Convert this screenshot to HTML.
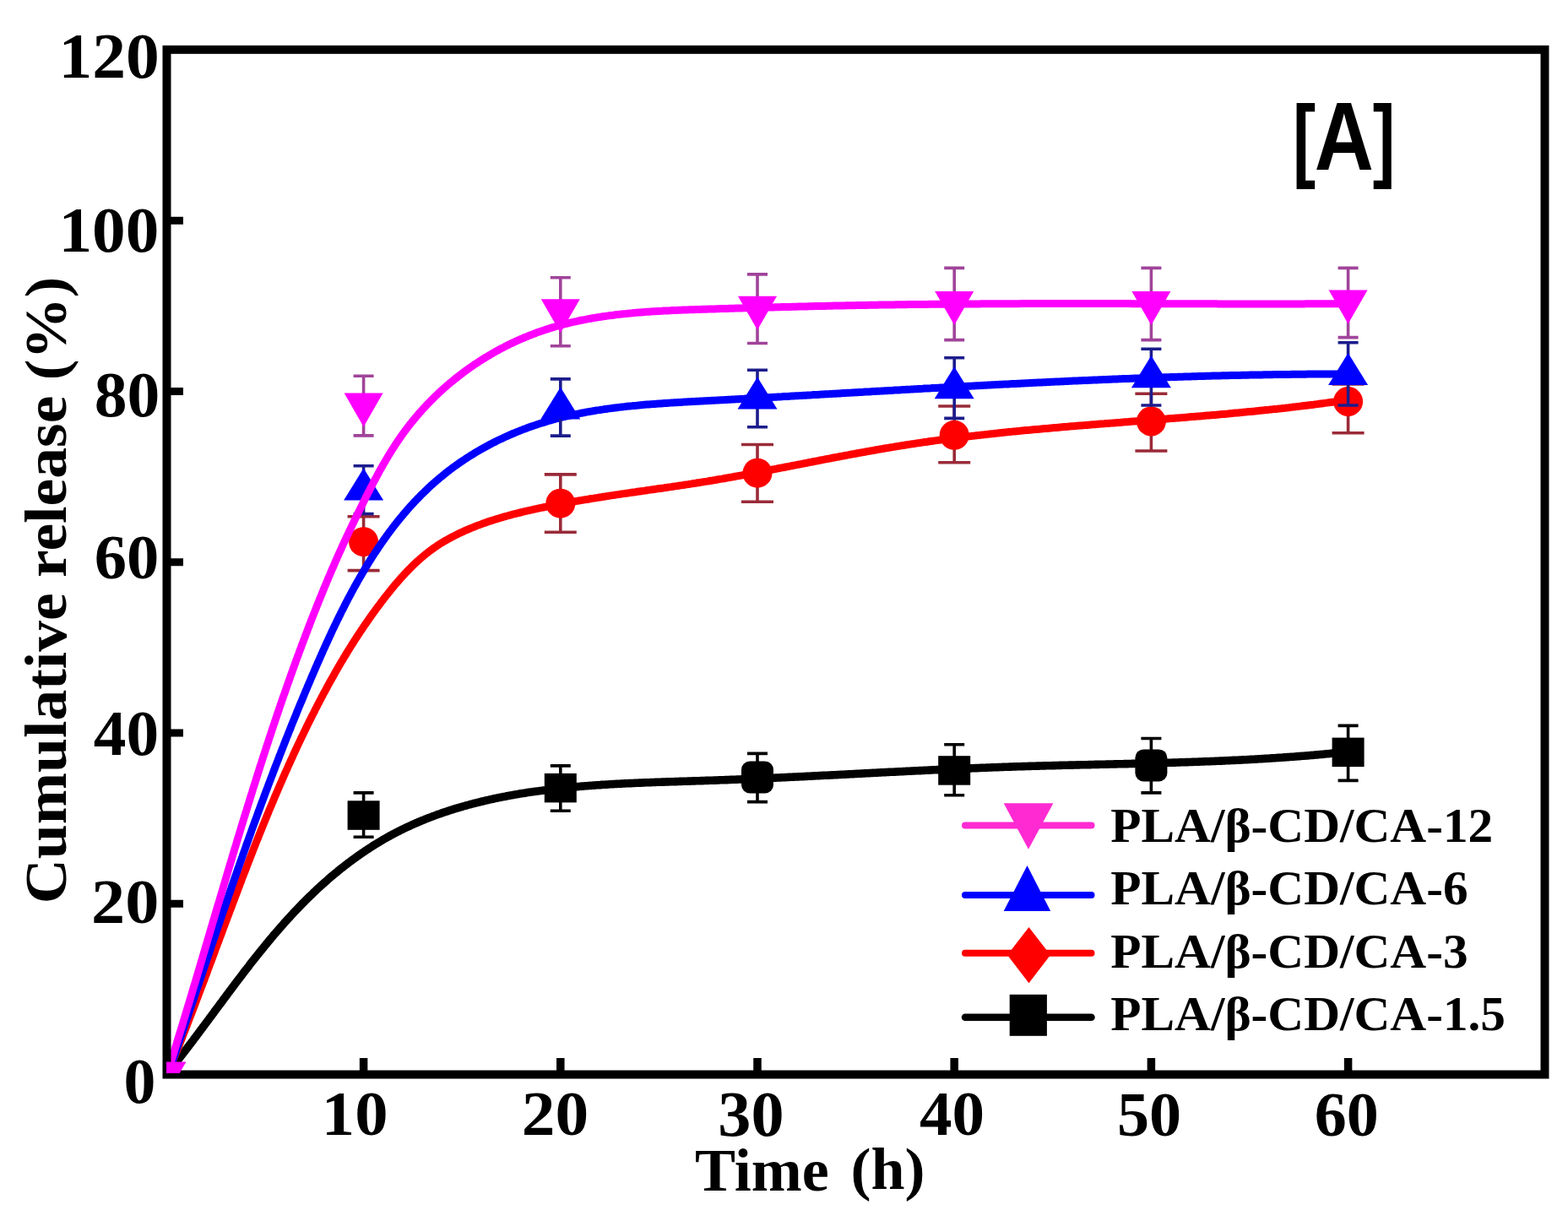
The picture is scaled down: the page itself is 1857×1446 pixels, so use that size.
<!DOCTYPE html>
<html><head><meta charset="utf-8"><title>Cumulative release</title>
<style>
html,body{margin:0;padding:0;background:#fff;}
svg{display:block;}
.t{font-family:"Liberation Serif","Times New Roman",serif;font-weight:bold;fill:#000;}
.s{font-family:"Liberation Sans",Arial,sans-serif;font-weight:bold;fill:#000;}
</style></head><body>
<svg width="1857" height="1446" viewBox="0 0 1857 1446">
<rect width="1857" height="1446" fill="#fff"/>
<defs><clipPath id="pa"><rect x="202" y="64" width="1622" height="1203"/></clipPath><clipPath id="pb"><rect x="197" y="59" width="1632" height="1212"/></clipPath></defs>
<g clip-path="url(#pa)">
<path d="M197.4,1271.9 L198.6,1270.5 L199.8,1269.0 L200.9,1267.6 L202.1,1266.1 L203.3,1264.7 L204.5,1263.2 L205.6,1261.7 L206.8,1260.3 L208.0,1258.8 L209.1,1257.3 L210.3,1255.8 L211.5,1254.4 L212.6,1252.9 L213.8,1251.4 L214.9,1249.9 L216.1,1248.4 L217.2,1246.9 L218.4,1245.4 L219.6,1243.9 L220.7,1242.4 L221.9,1240.9 L223.0,1239.4 L224.2,1237.9 L225.3,1236.4 L226.5,1234.9 L227.6,1233.4 L228.8,1231.9 L229.9,1230.3 L231.1,1228.8 L232.2,1227.3 L233.3,1225.8 L234.5,1224.3 L235.6,1222.7 L236.8,1221.2 L237.9,1219.7 L239.1,1218.1 L240.2,1216.6 L241.4,1215.1 L242.5,1213.5 L243.6,1212.0 L244.8,1210.5 L245.9,1208.9 L247.1,1207.4 L248.2,1205.8 L249.4,1204.3 L250.5,1202.8 L251.6,1201.2 L252.8,1199.7 L253.9,1198.1 L255.1,1196.6 L256.2,1195.0 L257.4,1193.5 L258.5,1192.0 L259.7,1190.4 L260.8,1188.9 L262.0,1187.3 L263.1,1185.8 L264.3,1184.2 L265.4,1182.7 L266.6,1181.1 L267.7,1179.6 L268.9,1178.0 L270.0,1176.5 L271.2,1174.9 L272.3,1173.4 L273.5,1171.8 L274.6,1170.3 L275.8,1168.8 L277.0,1167.2 L278.1,1165.7 L279.3,1164.1 L280.5,1162.6 L281.6,1161.0 L282.8,1159.5 L284.0,1158.0 L285.1,1156.4 L286.3,1154.9 L287.5,1153.3 L288.6,1151.8 L289.8,1150.3 L291.0,1148.7 L292.2,1147.2 L293.4,1145.7 L294.6,1144.2 L295.7,1142.6 L296.9,1141.1 L298.1,1139.6 L299.3,1138.1 L300.5,1136.5 L301.7,1135.0 L302.9,1133.5 L304.1,1132.0 L305.3,1130.5 L306.5,1129.0 L307.7,1127.5 L308.9,1126.0 L310.2,1124.5 L311.4,1123.0 L312.6,1121.5 L313.8,1120.0 L315.0,1118.5 L316.3,1117.0 L317.5,1115.5 L318.7,1114.0 L320.0,1112.5 L321.2,1111.0 L322.5,1109.6 L323.7,1108.1 L324.9,1106.6 L326.2,1105.2 L327.5,1103.7 L328.7,1102.2 L330.0,1100.8 L331.2,1099.3 L332.5,1097.9 L333.8,1096.4 L335.1,1095.0 L336.3,1093.5 L337.6,1092.1 L338.9,1090.7 L340.2,1089.2 L341.5,1087.8 L342.8,1086.4 L344.1,1085.0 L345.4,1083.6 L346.7,1082.2 L348.0,1080.7 L349.3,1079.3 L350.6,1077.9 L352.0,1076.6 L353.3,1075.2 L354.6,1073.8 L356.0,1072.4 L357.3,1071.0 L358.6,1069.7 L360.0,1068.3 L361.3,1066.9 L362.7,1065.6 L364.1,1064.2 L365.4,1062.9 L366.8,1061.5 L368.2,1060.2 L369.6,1058.9 L370.9,1057.6 L372.3,1056.2 L373.7,1054.9 L375.1,1053.6 L376.5,1052.3 L377.9,1051.0 L379.3,1049.7 L380.8,1048.4 L382.2,1047.1 L383.6,1045.9 L385.0,1044.6 L386.5,1043.3 L387.9,1042.1 L389.3,1040.8 L390.8,1039.6 L392.2,1038.3 L393.7,1037.1 L395.1,1035.9 L396.6,1034.6 L398.1,1033.4 L399.6,1032.2 L401.0,1031.0 L402.5,1029.8 L404.0,1028.6 L405.5,1027.4 L407.0,1026.3 L408.5,1025.1 L410.0,1023.9 L411.5,1022.8 L413.0,1021.6 L414.5,1020.5 L416.1,1019.3 L417.6,1018.2 L419.1,1017.1 L420.6,1016.0 L422.2,1014.9 L423.7,1013.8 L425.3,1012.7 L426.8,1011.6 L428.4,1010.5 L430.0,1009.4 L431.5,1008.4 L433.1,1007.3 L434.7,1006.3 L436.3,1005.2 L437.8,1004.2 L439.4,1003.2 L441.0,1002.1 L442.6,1001.1 L444.2,1000.1 L445.9,999.1 L447.5,998.1 L449.1,997.2 L450.7,996.2 L452.3,995.2 L454.0,994.3 L455.6,993.3 L457.3,992.4 L458.9,991.5 L460.6,990.6 L462.2,989.6 L463.9,988.7 L465.5,987.8 L467.2,987.0 L468.9,986.1 L470.6,985.2 L472.2,984.4 L473.9,983.5 L475.6,982.7 L477.3,981.8 L479.0,981.0 L480.7,980.2 L482.5,979.4 L484.2,978.6 L485.9,977.8 L487.6,977.0 L489.3,976.2 L491.1,975.5 L492.8,974.7 L494.5,974.0 L496.3,973.2 L498.0,972.5 L499.8,971.8 L501.5,971.1 L503.3,970.3 L505.1,969.6 L506.8,968.9 L508.6,968.3 L510.4,967.6 L512.1,966.9 L513.9,966.3 L515.7,965.6 L517.5,964.9 L519.3,964.3 L521.1,963.7 L522.9,963.0 L524.7,962.4 L526.5,961.8 L528.3,961.2 L530.1,960.6 L531.9,960.0 L533.7,959.4 L535.5,958.9 L537.3,958.3 L539.2,957.7 L541.0,957.2 L542.8,956.6 L544.6,956.1 L546.5,955.6 L548.3,955.0 L550.1,954.5 L552.0,954.0 L553.8,953.5 L555.6,953.0 L557.5,952.5 L559.3,952.0 L561.2,951.5 L563.0,951.0 L564.9,950.6 L566.7,950.1 L568.6,949.7 L570.4,949.2 L572.3,948.8 L574.2,948.3 L576.0,947.9 L577.9,947.5 L579.7,947.0 L581.6,946.6 L583.5,946.2 L585.3,945.8 L587.2,945.4 L589.1,945.0 L591.0,944.6 L592.8,944.3 L594.7,943.9 L596.6,943.5 L598.4,943.2 L600.3,942.8 L602.2,942.4 L604.1,942.1 L606.0,941.8 L607.8,941.4 L609.7,941.1 L611.6,940.8 L613.5,940.4 L615.4,940.1 L617.3,939.8 L619.2,939.5 L621.0,939.2 L622.9,938.9 L624.8,938.6 L626.7,938.3 L628.6,938.0 L630.5,937.8 L632.4,937.5 L634.3,937.2 L636.2,936.9 L638.1,936.7 L640.0,936.4 L641.9,936.2 L643.8,935.9 L645.7,935.7 L647.6,935.4 L649.5,935.2 L651.4,935.0 L653.3,934.7 L655.2,934.5 L657.1,934.3 L659.0,934.1 L660.9,933.9 L662.8,933.7 L664.7,933.5 L666.6,933.3 L668.5,933.1 L670.5,932.9 L672.4,932.7 L674.3,932.5 L676.2,932.3 L678.1,932.1 L680.0,932.0 L681.9,931.8 L683.9,931.6 L685.8,931.5 L687.7,931.3 L689.6,931.1 L691.5,931.0 L693.4,930.8 L695.4,930.7 L697.3,930.5 L699.2,930.4 L701.1,930.2 L703.0,930.1 L705.0,930.0 L706.9,929.8 L708.8,929.7 L710.7,929.6 L712.7,929.4 L714.6,929.3 L716.5,929.2 L718.4,929.1 L720.4,929.0 L722.3,928.8 L724.2,928.7 L726.1,928.6 L728.1,928.5 L730.0,928.4 L731.9,928.3 L733.8,928.2 L735.8,928.1 L737.7,928.0 L739.6,927.9 L741.6,927.8 L743.5,927.7 L745.4,927.6 L747.3,927.6 L749.3,927.5 L751.2,927.4 L753.1,927.3 L755.1,927.2 L757.0,927.1 L758.9,927.1 L760.9,927.0 L762.8,926.9 L764.7,926.8 L766.6,926.7 L768.6,926.7 L770.5,926.6 L772.4,926.5 L774.4,926.5 L776.3,926.4 L778.2,926.3 L780.2,926.3 L782.1,926.2 L784.0,926.1 L786.0,926.1 L787.9,926.0 L789.8,925.9 L791.8,925.9 L793.7,925.8 L795.6,925.7 L797.6,925.7 L799.5,925.6 L801.4,925.6 L803.3,925.5 L805.3,925.4 L807.2,925.4 L809.1,925.3 L811.1,925.2 L813.0,925.2 L814.9,925.1 L816.9,925.1 L818.8,925.0 L820.7,924.9 L822.6,924.9 L824.6,924.8 L826.5,924.8 L828.4,924.7 L830.4,924.6 L832.3,924.6 L834.2,924.5 L836.1,924.4 L838.1,924.4 L840.0,924.3 L841.9,924.3 L843.9,924.2 L845.8,924.1 L847.7,924.1 L849.6,924.0 L851.6,923.9 L853.5,923.8 L855.4,923.8 L857.3,923.7 L859.3,923.6 L861.2,923.6 L863.1,923.5 L865.0,923.4 L866.9,923.3 L868.9,923.3 L870.8,923.2 L872.7,923.1 L874.6,923.0 L876.5,923.0 L878.5,922.9 L880.4,922.8 L882.3,922.7 L884.2,922.6 L886.1,922.6 L888.1,922.5 L890.0,922.4 L891.9,922.3 L893.8,922.2 L895.7,922.2 L897.7,922.1 L899.6,922.0 L901.5,921.9 L903.4,921.8 L905.3,921.7 L907.2,921.6 L909.2,921.6 L911.1,921.5 L913.0,921.4 L914.9,921.3 L916.8,921.2 L918.7,921.1 L920.6,921.0 L922.6,921.0 L924.5,920.9 L926.4,920.8 L928.3,920.7 L930.2,920.6 L932.1,920.5 L934.0,920.4 L936.0,920.3 L937.9,920.2 L939.8,920.1 L941.7,920.0 L943.6,920.0 L945.5,919.9 L947.4,919.8 L949.3,919.7 L951.3,919.6 L953.2,919.5 L955.1,919.4 L957.0,919.3 L958.9,919.2 L960.8,919.1 L962.7,919.0 L964.6,918.9 L966.5,918.8 L968.4,918.7 L970.4,918.6 L972.3,918.5 L974.2,918.4 L976.1,918.3 L978.0,918.3 L979.9,918.2 L981.8,918.1 L983.7,918.0 L985.6,917.9 L987.5,917.8 L989.4,917.7 L991.4,917.6 L993.3,917.5 L995.2,917.4 L997.1,917.3 L999.0,917.2 L1000.9,917.1 L1002.8,917.0 L1004.7,916.9 L1006.6,916.8 L1008.5,916.7 L1010.4,916.6 L1012.3,916.5 L1014.2,916.4 L1016.1,916.3 L1018.1,916.2 L1020.0,916.1 L1021.9,916.0 L1023.8,915.9 L1025.7,915.8 L1027.6,915.7 L1029.5,915.6 L1031.4,915.5 L1033.3,915.4 L1035.2,915.3 L1037.1,915.2 L1039.0,915.1 L1040.9,915.0 L1042.8,914.9 L1044.7,914.8 L1046.7,914.7 L1048.6,914.6 L1050.5,914.5 L1052.4,914.4 L1054.3,914.3 L1056.2,914.3 L1058.1,914.2 L1060.0,914.1 L1061.9,914.0 L1063.8,913.9 L1065.7,913.8 L1067.6,913.7 L1069.5,913.6 L1071.4,913.5 L1073.3,913.4 L1075.2,913.3 L1077.1,913.2 L1079.1,913.1 L1081.0,913.0 L1082.9,912.9 L1084.8,912.8 L1086.7,912.7 L1088.6,912.6 L1090.5,912.6 L1092.4,912.5 L1094.3,912.4 L1096.2,912.3 L1098.1,912.2 L1100.0,912.1 L1101.9,912.0 L1103.8,911.9 L1105.7,911.8 L1107.6,911.7 L1109.6,911.6 L1111.5,911.6 L1113.4,911.5 L1115.3,911.4 L1117.2,911.3 L1119.1,911.2 L1121.0,911.1 L1122.9,911.0 L1124.8,910.9 L1126.7,910.9 L1128.6,910.8 L1130.5,910.7 L1132.4,910.6 L1134.3,910.5 L1136.3,910.4 L1138.2,910.4 L1140.1,910.3 L1142.0,910.2 L1143.9,910.1 L1145.8,910.0 L1147.7,909.9 L1149.6,909.9 L1151.5,909.8 L1153.4,909.7 L1155.3,909.6 L1157.2,909.6 L1159.2,909.5 L1161.1,909.4 L1163.0,909.3 L1164.9,909.3 L1166.8,909.2 L1168.7,909.1 L1170.6,909.0 L1172.5,909.0 L1174.4,908.9 L1176.3,908.8 L1178.3,908.7 L1180.2,908.7 L1182.1,908.6 L1184.0,908.5 L1185.9,908.5 L1187.8,908.4 L1189.7,908.3 L1191.6,908.3 L1193.6,908.2 L1195.5,908.1 L1197.4,908.1 L1199.3,908.0 L1201.2,907.9 L1203.1,907.9 L1205.0,907.8 L1206.9,907.8 L1208.9,907.7 L1210.8,907.6 L1212.7,907.6 L1214.6,907.5 L1216.5,907.5 L1218.4,907.4 L1220.4,907.4 L1222.3,907.3 L1224.2,907.2 L1226.1,907.2 L1228.0,907.1 L1229.9,907.1 L1231.8,907.0 L1233.8,907.0 L1235.7,906.9 L1237.6,906.9 L1239.5,906.8 L1241.4,906.8 L1243.3,906.7 L1245.3,906.7 L1247.2,906.6 L1249.1,906.6 L1251.0,906.5 L1252.9,906.5 L1254.9,906.4 L1256.8,906.4 L1258.7,906.3 L1260.6,906.3 L1262.5,906.2 L1264.4,906.2 L1266.4,906.1 L1268.3,906.1 L1270.2,906.1 L1272.1,906.0 L1274.0,906.0 L1276.0,905.9 L1277.9,905.9 L1279.8,905.8 L1281.7,905.8 L1283.6,905.7 L1285.6,905.7 L1287.5,905.7 L1289.4,905.6 L1291.3,905.6 L1293.2,905.5 L1295.2,905.5 L1297.1,905.4 L1299.0,905.4 L1300.9,905.4 L1302.8,905.3 L1304.8,905.3 L1306.7,905.2 L1308.6,905.2 L1310.5,905.1 L1312.4,905.1 L1314.4,905.0 L1316.3,905.0 L1318.2,905.0 L1320.1,904.9 L1322.0,904.9 L1324.0,904.8 L1325.9,904.8 L1327.8,904.7 L1329.7,904.7 L1331.7,904.6 L1333.6,904.6 L1335.5,904.6 L1337.4,904.5 L1339.3,904.5 L1341.3,904.4 L1343.2,904.4 L1345.1,904.3 L1347.0,904.3 L1348.9,904.2 L1350.9,904.2 L1352.8,904.1 L1354.7,904.1 L1356.6,904.0 L1358.5,904.0 L1360.5,903.9 L1362.4,903.9 L1364.3,903.8 L1366.2,903.8 L1368.1,903.7 L1370.1,903.7 L1372.0,903.6 L1373.9,903.6 L1375.8,903.5 L1377.8,903.5 L1379.7,903.4 L1381.6,903.4 L1383.5,903.3 L1385.4,903.2 L1387.4,903.2 L1389.3,903.1 L1391.2,903.1 L1393.1,903.0 L1395.0,903.0 L1397.0,902.9 L1398.9,902.8 L1400.8,902.8 L1402.7,902.7 L1404.6,902.6 L1406.6,902.6 L1408.5,902.5 L1410.4,902.5 L1412.3,902.4 L1414.2,902.3 L1416.2,902.3 L1418.1,902.2 L1420.0,902.1 L1421.9,902.0 L1423.8,902.0 L1425.7,901.9 L1427.7,901.8 L1429.6,901.8 L1431.5,901.7 L1433.4,901.6 L1435.3,901.5 L1437.3,901.5 L1439.2,901.4 L1441.1,901.3 L1443.0,901.2 L1444.9,901.1 L1446.8,901.1 L1448.8,901.0 L1450.7,900.9 L1452.6,900.8 L1454.5,900.7 L1456.4,900.6 L1458.3,900.5 L1460.3,900.4 L1462.2,900.4 L1464.1,900.3 L1466.0,900.2 L1467.9,900.1 L1469.8,900.0 L1471.7,899.9 L1473.7,899.8 L1475.6,899.7 L1477.5,899.6 L1479.4,899.5 L1481.3,899.4 L1483.2,899.3 L1485.1,899.2 L1487.1,899.1 L1489.0,899.0 L1490.9,898.8 L1492.8,898.7 L1494.7,898.6 L1496.6,898.5 L1498.5,898.4 L1500.4,898.3 L1502.4,898.2 L1504.3,898.0 L1506.2,897.9 L1508.1,897.8 L1510.0,897.7 L1511.9,897.5 L1513.8,897.4 L1515.7,897.3 L1517.6,897.2 L1519.6,897.0 L1521.5,896.9 L1523.4,896.8 L1525.3,896.6 L1527.2,896.5 L1529.1,896.3 L1531.0,896.2 L1532.9,896.1 L1534.8,895.9 L1536.7,895.8 L1538.6,895.6 L1540.5,895.5 L1542.4,895.3 L1544.3,895.2 L1546.3,895.0 L1548.2,894.9 L1550.1,894.7 L1552.0,894.5 L1553.9,894.4 L1555.8,894.2 L1557.7,894.0 L1559.6,893.9 L1561.5,893.7 L1563.4,893.5 L1565.3,893.4 L1567.2,893.2 L1569.1,893.0 L1571.0,892.8 L1572.9,892.7 L1574.8,892.5 L1576.7,892.3 L1578.6,892.1 L1580.5,891.9 L1582.4,891.7 L1584.3,891.5 L1586.2,891.3 L1588.1,891.1 L1590.0,890.9 L1591.9,890.7" stroke="#000000" stroke-width="9.6" fill="none" stroke-linejoin="round" stroke-linecap="butt"/>
<path d="M430.6,938.9V991.3M418.6,938.9H442.6M418.6,991.3H442.6" stroke="#000" stroke-width="3.6" fill="none"/>
<path d="M663.8,906.9V960.2M651.8,906.9H675.8M651.8,960.2H675.8" stroke="#000" stroke-width="3.6" fill="none"/>
<path d="M897.0,892.4V949.6M885.0,892.4H909.0M885.0,949.6H909.0" stroke="#000" stroke-width="3.6" fill="none"/>
<path d="M1130.2,881.7V941.8M1118.2,881.7H1142.2M1118.2,941.8H1142.2" stroke="#000" stroke-width="3.6" fill="none"/>
<path d="M1363.4,874.5V938.9M1351.4,874.5H1375.4M1351.4,938.9H1375.4" stroke="#000" stroke-width="3.6" fill="none"/>
<path d="M1596.6,859.4V924.4M1584.6,859.4H1608.6M1584.6,924.4H1608.6" stroke="#000" stroke-width="3.6" fill="none"/>
<rect x="411.6" y="948.3" width="38" height="34.5" fill="#000"/>
<rect x="644.8" y="915.9" width="38" height="34.5" fill="#000"/>
<rect x="878.0" y="901.5" width="38" height="38" rx="10" fill="#000"/>
<rect x="1111.2" y="895.2" width="38" height="34.5" fill="#000"/>
<rect x="1344.4" y="887.4" width="38" height="38" rx="10" fill="#000"/>
<rect x="1577.6" y="873.6" width="38" height="34.5" fill="#000"/>
<path d="M198.1,1272.6 L198.9,1270.6 L199.8,1268.5 L200.6,1266.4 L201.5,1264.3 L202.3,1262.2 L203.2,1260.2 L204.0,1258.1 L204.9,1256.0 L205.7,1253.9 L206.5,1251.8 L207.4,1249.7 L208.2,1247.6 L209.0,1245.5 L209.9,1243.4 L210.7,1241.4 L211.5,1239.3 L212.4,1237.2 L213.2,1235.1 L214.0,1233.0 L214.9,1230.9 L215.7,1228.8 L216.5,1226.7 L217.3,1224.6 L218.1,1222.5 L219.0,1220.4 L219.8,1218.3 L220.6,1216.2 L221.4,1214.1 L222.2,1212.0 L223.0,1209.9 L223.8,1207.7 L224.7,1205.6 L225.5,1203.5 L226.3,1201.4 L227.1,1199.3 L227.9,1197.2 L228.7,1195.1 L229.5,1193.0 L230.3,1190.9 L231.1,1188.8 L231.9,1186.7 L232.7,1184.5 L233.5,1182.4 L234.3,1180.3 L235.1,1178.2 L235.9,1176.1 L236.7,1174.0 L237.5,1171.8 L238.3,1169.7 L239.1,1167.6 L239.9,1165.5 L240.7,1163.4 L241.5,1161.3 L242.3,1159.1 L243.1,1157.0 L243.9,1154.9 L244.7,1152.8 L245.5,1150.7 L246.2,1148.5 L247.0,1146.4 L247.8,1144.3 L248.6,1142.2 L249.4,1140.1 L250.2,1137.9 L251.0,1135.8 L251.8,1133.7 L252.6,1131.6 L253.4,1129.5 L254.2,1127.3 L254.9,1125.2 L255.7,1123.1 L256.5,1121.0 L257.3,1118.8 L258.1,1116.7 L258.9,1114.6 L259.7,1112.5 L260.5,1110.3 L261.3,1108.2 L262.1,1106.1 L262.9,1104.0 L263.6,1101.9 L264.4,1099.7 L265.2,1097.6 L266.0,1095.5 L266.8,1093.4 L267.6,1091.2 L268.4,1089.1 L269.2,1087.0 L270.0,1084.9 L270.8,1082.7 L271.6,1080.6 L272.4,1078.5 L273.2,1076.4 L274.0,1074.3 L274.8,1072.1 L275.6,1070.0 L276.4,1067.9 L277.2,1065.8 L278.0,1063.6 L278.8,1061.5 L279.6,1059.4 L280.4,1057.3 L281.2,1055.2 L282.0,1053.0 L282.8,1050.9 L283.6,1048.8 L284.4,1046.7 L285.2,1044.6 L286.0,1042.5 L286.8,1040.3 L287.6,1038.2 L288.4,1036.1 L289.2,1034.0 L290.1,1031.9 L290.9,1029.8 L291.7,1027.6 L292.5,1025.5 L293.3,1023.4 L294.1,1021.3 L295.0,1019.2 L295.8,1017.1 L296.6,1015.0 L297.4,1012.9 L298.3,1010.7 L299.1,1008.6 L299.9,1006.5 L300.7,1004.4 L301.6,1002.3 L302.4,1000.2 L303.2,998.1 L304.1,996.0 L304.9,993.9 L305.8,991.8 L306.6,989.7 L307.4,987.6 L308.3,985.5 L309.1,983.4 L310.0,981.3 L310.8,979.2 L311.7,977.1 L312.5,975.0 L313.4,972.9 L314.2,970.8 L315.1,968.7 L316.0,966.6 L316.8,964.5 L317.7,962.4 L318.5,960.3 L319.4,958.2 L320.3,956.1 L321.2,954.1 L322.0,952.0 L322.9,949.9 L323.8,947.8 L324.7,945.7 L325.5,943.6 L326.4,941.6 L327.3,939.5 L328.2,937.4 L329.1,935.3 L330.0,933.2 L330.9,931.2 L331.8,929.1 L332.7,927.0 L333.6,924.9 L334.5,922.9 L335.4,920.8 L336.3,918.7 L337.2,916.7 L338.1,914.6 L339.1,912.5 L340.0,910.5 L340.9,908.4 L341.8,906.3 L342.8,904.3 L343.7,902.2 L344.6,900.2 L345.6,898.1 L346.5,896.1 L347.4,894.0 L348.4,891.9 L349.3,889.9 L350.3,887.8 L351.2,885.8 L352.2,883.8 L353.1,881.7 L354.1,879.7 L355.1,877.6 L356.0,875.6 L357.0,873.5 L358.0,871.5 L359.0,869.5 L360.0,867.4 L360.9,865.4 L361.9,863.4 L362.9,861.3 L363.9,859.3 L364.9,857.3 L365.9,855.3 L366.9,853.2 L367.9,851.2 L368.9,849.2 L369.9,847.2 L371.0,845.2 L372.0,843.2 L373.0,841.1 L374.0,839.1 L375.1,837.1 L376.1,835.1 L377.1,833.1 L378.2,831.1 L379.2,829.1 L380.3,827.1 L381.3,825.1 L382.4,823.1 L383.4,821.1 L384.5,819.1 L385.6,817.2 L386.7,815.2 L387.7,813.2 L388.8,811.2 L389.9,809.2 L391.0,807.2 L392.1,805.3 L393.2,803.3 L394.3,801.3 L395.4,799.4 L396.5,797.4 L397.6,795.4 L398.7,793.5 L399.9,791.5 L401.0,789.6 L402.1,787.6 L403.3,785.7 L404.4,783.7 L405.6,781.8 L406.7,779.8 L407.9,777.9 L409.1,776.0 L410.2,774.0 L411.4,772.1 L412.6,770.2 L413.8,768.3 L415.0,766.3 L416.2,764.4 L417.4,762.5 L418.6,760.6 L419.8,758.7 L421.0,756.8 L422.3,754.9 L423.5,753.0 L424.7,751.1 L426.0,749.2 L427.2,747.3 L428.5,745.5 L429.8,743.6 L431.0,741.7 L432.3,739.8 L433.6,738.0 L434.9,736.1 L436.2,734.3 L437.5,732.4 L438.8,730.5 L440.1,728.7 L441.4,726.9 L442.7,725.0 L444.1,723.2 L445.4,721.3 L446.8,719.5 L448.1,717.7 L449.5,715.9 L450.8,714.1 L452.2,712.2 L453.6,710.4 L455.0,708.6 L456.4,706.8 L457.8,705.0 L459.2,703.3 L460.6,701.5 L462.1,699.7 L463.5,697.9 L464.9,696.2 L466.4,694.4 L467.8,692.7 L469.3,690.9 L470.8,689.2 L472.3,687.5 L473.8,685.8 L475.3,684.1 L476.8,682.4 L478.3,680.7 L479.9,679.1 L481.4,677.4 L483.0,675.8 L484.5,674.2 L486.1,672.6 L487.7,671.0 L489.3,669.4 L490.9,667.9 L492.6,666.4 L494.2,664.8 L495.9,663.3 L497.5,661.9 L499.2,660.4 L500.9,659.0 L502.6,657.5 L504.3,656.1 L506.1,654.8 L507.8,653.4 L509.6,652.1 L511.3,650.8 L513.1,649.5 L514.9,648.2 L516.8,647.0 L518.6,645.7 L520.4,644.5 L522.3,643.3 L524.2,642.2 L526.1,641.1 L528.0,639.9 L529.9,638.9 L531.8,637.8 L533.8,636.7 L535.7,635.7 L537.7,634.7 L539.7,633.7 L541.6,632.7 L543.6,631.7 L545.6,630.8 L547.7,629.9 L549.7,628.9 L551.7,628.0 L553.8,627.2 L555.8,626.3 L557.9,625.4 L560.0,624.6 L562.0,623.8 L564.1,622.9 L566.2,622.1 L568.3,621.4 L570.4,620.6 L572.5,619.8 L574.7,619.1 L576.8,618.3 L578.9,617.6 L581.1,616.9 L583.2,616.2 L585.4,615.5 L587.6,614.8 L589.7,614.2 L591.9,613.5 L594.1,612.9 L596.3,612.2 L598.4,611.6 L600.6,611.0 L602.8,610.4 L605.0,609.8 L607.2,609.2 L609.4,608.7 L611.7,608.1 L613.9,607.5 L616.1,607.0 L618.3,606.5 L620.5,605.9 L622.8,605.4 L625.0,604.9 L627.2,604.4 L629.5,603.9 L631.7,603.4 L633.9,602.9 L636.2,602.4 L638.4,601.9 L640.6,601.4 L642.9,601.0 L645.1,600.5 L647.4,600.1 L649.6,599.6 L651.8,599.2 L654.1,598.7 L656.3,598.3 L658.6,597.9 L660.8,597.4 L663.0,597.0 L665.3,596.6 L667.5,596.2 L669.7,595.8 L672.0,595.4 L674.2,595.0 L676.5,594.6 L678.7,594.2 L680.9,593.8 L683.2,593.4 L685.4,593.0 L687.7,592.6 L689.9,592.3 L692.1,591.9 L694.4,591.5 L696.6,591.2 L698.8,590.8 L701.1,590.4 L703.3,590.1 L705.5,589.7 L707.8,589.4 L710.0,589.0 L712.2,588.7 L714.5,588.3 L716.7,588.0 L719.0,587.6 L721.2,587.3 L723.4,586.9 L725.7,586.6 L727.9,586.3 L730.1,585.9 L732.4,585.6 L734.6,585.3 L736.8,584.9 L739.1,584.6 L741.3,584.3 L743.5,584.0 L745.8,583.6 L748.0,583.3 L750.2,583.0 L752.5,582.7 L754.7,582.3 L756.9,582.0 L759.2,581.7 L761.4,581.4 L763.6,581.1 L765.9,580.7 L768.1,580.4 L770.3,580.1 L772.5,579.8 L774.8,579.5 L777.0,579.1 L779.2,578.8 L781.5,578.5 L783.7,578.2 L785.9,577.9 L788.2,577.5 L790.4,577.2 L792.6,576.9 L794.9,576.6 L797.1,576.2 L799.3,575.9 L801.5,575.6 L803.8,575.2 L806.0,574.9 L808.2,574.6 L810.5,574.2 L812.7,573.9 L814.9,573.6 L817.1,573.2 L819.4,572.9 L821.6,572.5 L823.8,572.2 L826.1,571.8 L828.3,571.5 L830.5,571.1 L832.7,570.8 L835.0,570.4 L837.2,570.1 L839.4,569.7 L841.7,569.3 L843.9,569.0 L846.1,568.6 L848.3,568.2 L850.6,567.8 L852.8,567.4 L855.0,567.1 L857.2,566.7 L859.5,566.3 L861.7,565.9 L863.9,565.5 L866.2,565.1 L868.4,564.7 L870.6,564.3 L872.8,563.9 L875.1,563.5 L877.3,563.1 L879.5,562.7 L881.7,562.3 L884.0,561.9 L886.2,561.5 L888.4,561.1 L890.6,560.7 L892.9,560.2 L895.1,559.8 L897.3,559.4 L899.5,559.0 L901.8,558.6 L904.0,558.2 L906.2,557.7 L908.4,557.3 L910.7,556.9 L912.9,556.5 L915.1,556.0 L917.4,555.6 L919.6,555.2 L921.8,554.7 L924.0,554.3 L926.3,553.9 L928.5,553.5 L930.7,553.0 L932.9,552.6 L935.2,552.2 L937.4,551.7 L939.6,551.3 L941.8,550.9 L944.1,550.4 L946.3,550.0 L948.5,549.6 L950.7,549.1 L953.0,548.7 L955.2,548.3 L957.4,547.8 L959.7,547.4 L961.9,547.0 L964.1,546.5 L966.3,546.1 L968.6,545.7 L970.8,545.2 L973.0,544.8 L975.2,544.4 L977.5,543.9 L979.7,543.5 L981.9,543.1 L984.2,542.7 L986.4,542.2 L988.6,541.8 L990.8,541.4 L993.1,541.0 L995.3,540.5 L997.5,540.1 L999.8,539.7 L1002.0,539.3 L1004.2,538.9 L1006.5,538.4 L1008.7,538.0 L1010.9,537.6 L1013.2,537.2 L1015.4,536.8 L1017.6,536.4 L1019.8,536.0 L1022.1,535.6 L1024.3,535.2 L1026.5,534.8 L1028.8,534.4 L1031.0,534.0 L1033.2,533.6 L1035.5,533.2 L1037.7,532.8 L1039.9,532.4 L1042.2,532.0 L1044.4,531.6 L1046.6,531.2 L1048.9,530.8 L1051.1,530.5 L1053.4,530.1 L1055.6,529.7 L1057.8,529.4 L1060.1,529.0 L1062.3,528.6 L1064.5,528.3 L1066.8,527.9 L1069.0,527.5 L1071.3,527.2 L1073.5,526.8 L1075.7,526.5 L1078.0,526.1 L1080.2,525.8 L1082.4,525.5 L1084.7,525.1 L1086.9,524.8 L1089.2,524.5 L1091.4,524.1 L1093.7,523.8 L1095.9,523.5 L1098.1,523.2 L1100.4,522.8 L1102.6,522.5 L1104.9,522.2 L1107.1,521.9 L1109.3,521.6 L1111.6,521.3 L1113.8,521.0 L1116.1,520.7 L1118.3,520.4 L1120.6,520.1 L1122.8,519.8 L1125.1,519.5 L1127.3,519.2 L1129.6,518.9 L1131.8,518.7 L1134.0,518.4 L1136.3,518.1 L1138.5,517.8 L1140.8,517.6 L1143.0,517.3 L1145.3,517.0 L1147.5,516.7 L1149.8,516.5 L1152.0,516.2 L1154.3,516.0 L1156.5,515.7 L1158.8,515.4 L1161.0,515.2 L1163.3,514.9 L1165.5,514.7 L1167.8,514.4 L1170.0,514.2 L1172.3,513.9 L1174.5,513.7 L1176.8,513.5 L1179.0,513.2 L1181.3,513.0 L1183.5,512.7 L1185.8,512.5 L1188.0,512.3 L1190.3,512.1 L1192.5,511.8 L1194.8,511.6 L1197.0,511.4 L1199.3,511.1 L1201.5,510.9 L1203.8,510.7 L1206.0,510.5 L1208.3,510.3 L1210.6,510.0 L1212.8,509.8 L1215.1,509.6 L1217.3,509.4 L1219.6,509.2 L1221.8,509.0 L1224.1,508.8 L1226.3,508.6 L1228.6,508.4 L1230.8,508.2 L1233.1,508.0 L1235.3,507.8 L1237.6,507.6 L1239.9,507.4 L1242.1,507.2 L1244.4,507.0 L1246.6,506.8 L1248.9,506.6 L1251.1,506.4 L1253.4,506.2 L1255.6,506.0 L1257.9,505.8 L1260.2,505.6 L1262.4,505.4 L1264.7,505.2 L1266.9,505.0 L1269.2,504.8 L1271.4,504.7 L1273.7,504.5 L1276.0,504.3 L1278.2,504.1 L1280.5,503.9 L1282.7,503.7 L1285.0,503.6 L1287.2,503.4 L1289.5,503.2 L1291.8,503.0 L1294.0,502.8 L1296.3,502.7 L1298.5,502.5 L1300.8,502.3 L1303.0,502.1 L1305.3,501.9 L1307.6,501.8 L1309.8,501.6 L1312.1,501.4 L1314.3,501.2 L1316.6,501.1 L1318.8,500.9 L1321.1,500.7 L1323.4,500.5 L1325.6,500.4 L1327.9,500.2 L1330.1,500.0 L1332.4,499.8 L1334.7,499.7 L1336.9,499.5 L1339.2,499.3 L1341.4,499.1 L1343.7,499.0 L1345.9,498.8 L1348.2,498.6 L1350.5,498.4 L1352.7,498.3 L1355.0,498.1 L1357.2,497.9 L1359.5,497.8 L1361.8,497.6 L1364.0,497.4 L1366.3,497.2 L1368.5,497.1 L1370.8,496.9 L1373.0,496.7 L1375.3,496.5 L1377.6,496.3 L1379.8,496.2 L1382.1,496.0 L1384.3,495.8 L1386.6,495.6 L1388.8,495.5 L1391.1,495.3 L1393.4,495.1 L1395.6,494.9 L1397.9,494.7 L1400.1,494.6 L1402.4,494.4 L1404.6,494.2 L1406.9,494.0 L1409.2,493.8 L1411.4,493.6 L1413.7,493.5 L1415.9,493.3 L1418.2,493.1 L1420.4,492.9 L1422.7,492.7 L1424.9,492.5 L1427.2,492.3 L1429.5,492.1 L1431.7,491.9 L1434.0,491.7 L1436.2,491.5 L1438.5,491.4 L1440.7,491.2 L1443.0,491.0 L1445.2,490.8 L1447.5,490.6 L1449.8,490.4 L1452.0,490.2 L1454.3,490.0 L1456.5,489.7 L1458.8,489.5 L1461.0,489.3 L1463.3,489.1 L1465.5,488.9 L1467.8,488.7 L1470.0,488.5 L1472.3,488.3 L1474.6,488.1 L1476.8,487.8 L1479.1,487.6 L1481.3,487.4 L1483.6,487.2 L1485.8,487.0 L1488.1,486.7 L1490.3,486.5 L1492.6,486.3 L1494.8,486.1 L1497.1,485.8 L1499.3,485.6 L1501.6,485.4 L1503.8,485.1 L1506.1,484.9 L1508.3,484.6 L1510.6,484.4 L1512.8,484.2 L1515.1,483.9 L1517.3,483.7 L1519.6,483.4 L1521.8,483.2 L1524.1,482.9 L1526.3,482.7 L1528.6,482.4 L1530.8,482.1 L1533.1,481.9 L1535.3,481.6 L1537.6,481.4 L1539.8,481.1 L1542.1,480.8 L1544.3,480.5 L1546.6,480.3 L1548.8,480.0 L1551.0,479.7 L1553.3,479.4 L1555.5,479.2 L1557.8,478.9 L1560.0,478.6 L1562.3,478.3 L1564.5,478.0 L1566.8,477.7 L1569.0,477.4 L1571.2,477.1 L1573.5,476.8 L1575.7,476.5 L1578.0,476.2 L1580.2,475.9 L1582.5,475.6 L1584.7,475.3 L1586.9,474.9 L1589.2,474.6 L1591.4,474.3 L1593.7,474.0 L1595.9,473.6" stroke="#ff0000" stroke-width="9" fill="none" stroke-linejoin="round" stroke-linecap="butt"/>
<path d="M430.6,611.7V675.6M411.6,611.7H449.6M411.6,675.6H449.6" stroke="#9a2a38" stroke-width="3.6" fill="none"/>
<path d="M663.8,561.9V630.3M644.8,561.9H682.8M644.8,630.3H682.8" stroke="#9a2a38" stroke-width="3.6" fill="none"/>
<path d="M897.0,526.5V594.3M878.0,526.5H916.0M878.0,594.3H916.0" stroke="#9a2a38" stroke-width="3.6" fill="none"/>
<path d="M1130.2,481.0V547.7M1111.2,481.0H1149.2M1111.2,547.7H1149.2" stroke="#9a2a38" stroke-width="3.6" fill="none"/>
<path d="M1363.4,466.3V534.0M1344.4,466.3H1382.4M1344.4,534.0H1382.4" stroke="#9a2a38" stroke-width="3.6" fill="none"/>
<path d="M1596.6,455.0V512.8M1577.6,455.0H1615.6M1577.6,512.8H1615.6" stroke="#9a2a38" stroke-width="3.6" fill="none"/>
<ellipse cx="430.6" cy="641.7" rx="17.5" ry="17.5" fill="#ff0000"/>
<ellipse cx="663.8" cy="596.2" rx="17.5" ry="17.5" fill="#ff0000"/>
<ellipse cx="897.0" cy="560.2" rx="17.5" ry="17.5" fill="#ff0000"/>
<ellipse cx="1130.2" cy="515.3" rx="17.5" ry="17.5" fill="#ff0000"/>
<ellipse cx="1363.4" cy="499.0" rx="17.5" ry="17.5" fill="#ff0000"/>
<ellipse cx="1596.6" cy="475.5" rx="17.5" ry="17.5" fill="#ff0000"/>
<path d="M198.6,1273.6 L199.4,1271.3 L200.2,1269.0 L200.9,1266.8 L201.7,1264.5 L202.5,1262.2 L203.3,1259.9 L204.0,1257.7 L204.8,1255.4 L205.6,1253.1 L206.3,1250.8 L207.1,1248.6 L207.9,1246.3 L208.7,1244.0 L209.4,1241.8 L210.2,1239.5 L211.0,1237.2 L211.7,1235.0 L212.5,1232.7 L213.3,1230.4 L214.0,1228.2 L214.8,1225.9 L215.6,1223.7 L216.3,1221.4 L217.1,1219.2 L217.8,1216.9 L218.6,1214.6 L219.4,1212.4 L220.1,1210.1 L220.9,1207.9 L221.6,1205.6 L222.4,1203.4 L223.2,1201.1 L223.9,1198.9 L224.7,1196.6 L225.4,1194.4 L226.2,1192.1 L226.9,1189.9 L227.7,1187.7 L228.5,1185.4 L229.2,1183.2 L230.0,1180.9 L230.7,1178.7 L231.5,1176.5 L232.2,1174.2 L233.0,1172.0 L233.7,1169.7 L234.5,1167.5 L235.2,1165.3 L236.0,1163.0 L236.7,1160.8 L237.5,1158.6 L238.3,1156.3 L239.0,1154.1 L239.8,1151.9 L240.5,1149.6 L241.3,1147.4 L242.0,1145.2 L242.8,1143.0 L243.5,1140.7 L244.3,1138.5 L245.0,1136.3 L245.8,1134.0 L246.5,1131.8 L247.3,1129.6 L248.0,1127.4 L248.8,1125.2 L249.5,1122.9 L250.3,1120.7 L251.0,1118.5 L251.8,1116.3 L252.5,1114.1 L253.3,1111.8 L254.1,1109.6 L254.8,1107.4 L255.6,1105.2 L256.3,1103.0 L257.1,1100.7 L257.8,1098.5 L258.6,1096.3 L259.3,1094.1 L260.1,1091.9 L260.8,1089.7 L261.6,1087.5 L262.4,1085.3 L263.1,1083.0 L263.9,1080.8 L264.6,1078.6 L265.4,1076.4 L266.2,1074.2 L266.9,1072.0 L267.7,1069.8 L268.4,1067.6 L269.2,1065.4 L270.0,1063.2 L270.7,1061.0 L271.5,1058.8 L272.2,1056.6 L273.0,1054.4 L273.8,1052.2 L274.5,1049.9 L275.3,1047.7 L276.1,1045.5 L276.8,1043.3 L277.6,1041.1 L278.4,1038.9 L279.1,1036.7 L279.9,1034.5 L280.7,1032.3 L281.4,1030.1 L282.2,1027.9 L283.0,1025.7 L283.8,1023.5 L284.5,1021.3 L285.3,1019.2 L286.1,1017.0 L286.9,1014.8 L287.6,1012.6 L288.4,1010.4 L289.2,1008.2 L290.0,1006.0 L290.8,1003.8 L291.5,1001.6 L292.3,999.4 L293.1,997.2 L293.9,995.0 L294.7,992.8 L295.5,990.6 L296.3,988.4 L297.1,986.2 L297.8,984.0 L298.6,981.8 L299.4,979.7 L300.2,977.5 L301.0,975.3 L301.8,973.1 L302.6,970.9 L303.4,968.7 L304.2,966.5 L305.0,964.3 L305.8,962.1 L306.6,959.9 L307.4,957.8 L308.2,955.6 L309.0,953.4 L309.8,951.2 L310.7,949.0 L311.5,946.8 L312.3,944.6 L313.1,942.4 L313.9,940.2 L314.7,938.1 L315.5,935.9 L316.4,933.7 L317.2,931.5 L318.0,929.3 L318.8,927.1 L319.7,924.9 L320.5,922.7 L321.3,920.6 L322.2,918.4 L323.0,916.2 L323.8,914.0 L324.7,911.8 L325.5,909.6 L326.3,907.4 L327.2,905.2 L328.0,903.1 L328.9,900.9 L329.7,898.7 L330.6,896.5 L331.4,894.3 L332.3,892.1 L333.1,889.9 L334.0,887.7 L334.8,885.6 L335.7,883.4 L336.5,881.2 L337.4,879.0 L338.3,876.8 L339.1,874.6 L340.0,872.4 L340.9,870.3 L341.7,868.1 L342.6,865.9 L343.5,863.7 L344.4,861.5 L345.2,859.3 L346.1,857.1 L347.0,854.9 L347.9,852.7 L348.8,850.6 L349.7,848.4 L350.6,846.2 L351.4,844.0 L352.3,841.8 L353.2,839.6 L354.1,837.4 L355.0,835.2 L355.9,833.1 L356.9,830.9 L357.8,828.7 L358.7,826.5 L359.6,824.3 L360.5,822.1 L361.4,819.9 L362.3,817.7 L363.3,815.5 L364.2,813.3 L365.1,811.1 L366.0,809.0 L367.0,806.8 L367.9,804.6 L368.8,802.4 L369.8,800.2 L370.7,798.0 L371.7,795.8 L372.6,793.6 L373.6,791.4 L374.5,789.2 L375.5,787.0 L376.4,784.8 L377.4,782.6 L378.4,780.4 L379.3,778.3 L380.3,776.1 L381.3,773.9 L382.2,771.7 L383.2,769.5 L384.2,767.3 L385.2,765.1 L386.2,762.9 L387.2,760.8 L388.2,758.6 L389.2,756.4 L390.2,754.2 L391.2,752.1 L392.2,749.9 L393.2,747.7 L394.2,745.5 L395.3,743.4 L396.3,741.2 L397.3,739.1 L398.4,736.9 L399.4,734.7 L400.5,732.6 L401.5,730.4 L402.6,728.3 L403.6,726.1 L404.7,724.0 L405.8,721.9 L406.9,719.7 L408.0,717.6 L409.0,715.5 L410.1,713.4 L411.2,711.2 L412.3,709.1 L413.5,707.0 L414.6,704.9 L415.7,702.8 L416.8,700.7 L418.0,698.6 L419.1,696.5 L420.2,694.4 L421.4,692.4 L422.6,690.3 L423.7,688.2 L424.9,686.2 L426.1,684.1 L427.3,682.1 L428.5,680.0 L429.7,678.0 L430.9,675.9 L432.1,673.9 L433.3,671.9 L434.5,669.9 L435.7,667.8 L437.0,665.8 L438.2,663.8 L439.5,661.8 L440.7,659.9 L442.0,657.9 L443.3,655.9 L444.6,653.9 L445.9,652.0 L447.2,650.0 L448.5,648.1 L449.8,646.1 L451.1,644.2 L452.4,642.3 L453.8,640.4 L455.1,638.5 L456.5,636.6 L457.9,634.7 L459.2,632.8 L460.6,630.9 L462.0,629.0 L463.4,627.2 L464.8,625.3 L466.2,623.5 L467.6,621.6 L469.1,619.8 L470.5,618.0 L472.0,616.2 L473.4,614.4 L474.9,612.6 L476.4,610.8 L477.9,609.0 L479.4,607.3 L480.9,605.5 L482.4,603.8 L483.9,602.1 L485.5,600.3 L487.0,598.6 L488.6,596.9 L490.1,595.2 L491.7,593.5 L493.3,591.9 L494.9,590.2 L496.5,588.6 L498.1,586.9 L499.7,585.3 L501.4,583.7 L503.0,582.1 L504.7,580.5 L506.4,578.9 L508.0,577.3 L509.7,575.7 L511.4,574.2 L513.1,572.6 L514.9,571.1 L516.6,569.6 L518.4,568.1 L520.1,566.6 L521.9,565.1 L523.7,563.7 L525.5,562.2 L527.3,560.8 L529.1,559.3 L530.9,557.9 L532.7,556.5 L534.6,555.1 L536.5,553.7 L538.3,552.4 L540.2,551.0 L542.1,549.7 L544.0,548.3 L545.9,547.0 L547.8,545.7 L549.8,544.4 L551.7,543.1 L553.7,541.9 L555.6,540.6 L557.6,539.4 L559.6,538.2 L561.6,536.9 L563.6,535.7 L565.6,534.5 L567.6,533.4 L569.6,532.2 L571.7,531.1 L573.7,529.9 L575.8,528.8 L577.8,527.7 L579.9,526.6 L582.0,525.5 L584.0,524.4 L586.1,523.4 L588.2,522.3 L590.3,521.3 L592.4,520.3 L594.6,519.3 L596.7,518.3 L598.8,517.3 L601.0,516.3 L603.1,515.4 L605.3,514.4 L607.4,513.5 L609.6,512.6 L611.8,511.7 L614.0,510.8 L616.2,509.9 L618.3,509.1 L620.5,508.2 L622.8,507.4 L625.0,506.6 L627.2,505.8 L629.4,505.0 L631.6,504.2 L633.9,503.5 L636.1,502.7 L638.3,502.0 L640.6,501.3 L642.8,500.6 L645.1,499.9 L647.3,499.2 L649.6,498.5 L651.9,497.9 L654.1,497.2 L656.4,496.6 L658.7,496.0 L661.0,495.4 L663.3,494.8 L665.5,494.2 L667.8,493.7 L670.1,493.1 L672.4,492.6 L674.7,492.1 L677.0,491.6 L679.4,491.1 L681.7,490.6 L684.0,490.1 L686.3,489.7 L688.6,489.2 L690.9,488.8 L693.2,488.3 L695.6,487.9 L697.9,487.5 L700.2,487.1 L702.6,486.7 L704.9,486.3 L707.2,485.9 L709.6,485.6 L711.9,485.2 L714.2,484.9 L716.6,484.5 L718.9,484.2 L721.2,483.9 L723.6,483.6 L725.9,483.3 L728.3,483.0 L730.6,482.7 L733.0,482.4 L735.3,482.1 L737.6,481.9 L740.0,481.6 L742.3,481.3 L744.7,481.1 L747.0,480.9 L749.4,480.6 L751.7,480.4 L754.1,480.2 L756.4,479.9 L758.8,479.7 L761.1,479.5 L763.5,479.3 L765.8,479.1 L768.2,478.9 L770.5,478.7 L772.9,478.6 L775.3,478.4 L777.6,478.2 L780.0,478.0 L782.3,477.9 L784.7,477.7 L787.0,477.5 L789.4,477.4 L791.7,477.2 L794.1,477.1 L796.5,476.9 L798.8,476.8 L801.2,476.7 L803.5,476.5 L805.9,476.4 L808.2,476.2 L810.6,476.1 L813.0,476.0 L815.3,475.8 L817.7,475.7 L820.0,475.6 L822.4,475.5 L824.7,475.3 L827.1,475.2 L829.5,475.1 L831.8,475.0 L834.2,474.8 L836.5,474.7 L838.9,474.6 L841.2,474.5 L843.6,474.3 L846.0,474.2 L848.3,474.1 L850.7,473.9 L853.0,473.8 L855.4,473.7 L857.7,473.6 L860.1,473.4 L862.5,473.3 L864.8,473.2 L867.2,473.0 L869.5,472.9 L871.9,472.8 L874.2,472.7 L876.6,472.5 L878.9,472.4 L881.3,472.3 L883.7,472.1 L886.0,472.0 L888.4,471.9 L890.7,471.7 L893.1,471.6 L895.4,471.5 L897.8,471.4 L900.1,471.2 L902.5,471.1 L904.8,471.0 L907.2,470.8 L909.5,470.7 L911.9,470.6 L914.3,470.4 L916.6,470.3 L919.0,470.2 L921.3,470.0 L923.7,469.9 L926.0,469.8 L928.4,469.6 L930.7,469.5 L933.1,469.4 L935.4,469.2 L937.8,469.1 L940.1,469.0 L942.5,468.8 L944.8,468.7 L947.2,468.6 L949.5,468.4 L951.9,468.3 L954.2,468.2 L956.6,468.0 L958.9,467.9 L961.3,467.8 L963.6,467.6 L966.0,467.5 L968.3,467.4 L970.7,467.2 L973.0,467.1 L975.4,467.0 L977.7,466.8 L980.1,466.7 L982.4,466.6 L984.8,466.4 L987.1,466.3 L989.5,466.2 L991.8,466.0 L994.2,465.9 L996.5,465.7 L998.9,465.6 L1001.2,465.5 L1003.6,465.3 L1005.9,465.2 L1008.3,465.1 L1010.6,464.9 L1013.0,464.8 L1015.3,464.7 L1017.7,464.5 L1020.0,464.4 L1022.4,464.3 L1024.7,464.1 L1027.1,464.0 L1029.4,463.9 L1031.8,463.7 L1034.1,463.6 L1036.5,463.5 L1038.8,463.3 L1041.2,463.2 L1043.5,463.1 L1045.9,462.9 L1048.2,462.8 L1050.6,462.7 L1052.9,462.5 L1055.3,462.4 L1057.6,462.3 L1060.0,462.1 L1062.3,462.0 L1064.6,461.9 L1067.0,461.7 L1069.3,461.6 L1071.7,461.5 L1074.0,461.3 L1076.4,461.2 L1078.7,461.1 L1081.1,460.9 L1083.4,460.8 L1085.8,460.7 L1088.1,460.5 L1090.5,460.4 L1092.8,460.3 L1095.2,460.1 L1097.5,460.0 L1099.9,459.9 L1102.2,459.8 L1104.6,459.6 L1106.9,459.5 L1109.2,459.4 L1111.6,459.2 L1113.9,459.1 L1116.3,459.0 L1118.6,458.9 L1121.0,458.7 L1123.3,458.6 L1125.7,458.5 L1128.0,458.3 L1130.4,458.2 L1132.7,458.1 L1135.1,458.0 L1137.4,457.8 L1139.8,457.7 L1142.1,457.6 L1144.4,457.4 L1146.8,457.3 L1149.1,457.2 L1151.5,457.1 L1153.8,456.9 L1156.2,456.8 L1158.5,456.7 L1160.9,456.6 L1163.2,456.4 L1165.6,456.3 L1167.9,456.2 L1170.3,456.1 L1172.6,456.0 L1175.0,455.8 L1177.3,455.7 L1179.6,455.6 L1182.0,455.5 L1184.3,455.3 L1186.7,455.2 L1189.0,455.1 L1191.4,455.0 L1193.7,454.9 L1196.1,454.7 L1198.4,454.6 L1200.8,454.5 L1203.1,454.4 L1205.5,454.3 L1207.8,454.2 L1210.2,454.0 L1212.5,453.9 L1214.9,453.8 L1217.2,453.7 L1219.5,453.6 L1221.9,453.5 L1224.2,453.3 L1226.6,453.2 L1228.9,453.1 L1231.3,453.0 L1233.6,452.9 L1236.0,452.8 L1238.3,452.7 L1240.7,452.5 L1243.0,452.4 L1245.4,452.3 L1247.7,452.2 L1250.1,452.1 L1252.4,452.0 L1254.8,451.9 L1257.1,451.8 L1259.5,451.7 L1261.8,451.6 L1264.1,451.5 L1266.5,451.3 L1268.8,451.2 L1271.2,451.1 L1273.5,451.0 L1275.9,450.9 L1278.2,450.8 L1280.6,450.7 L1282.9,450.6 L1285.3,450.5 L1287.6,450.4 L1290.0,450.3 L1292.3,450.2 L1294.7,450.1 L1297.0,450.0 L1299.4,449.9 L1301.7,449.8 L1304.1,449.7 L1306.4,449.6 L1308.8,449.5 L1311.1,449.4 L1313.5,449.3 L1315.8,449.2 L1318.2,449.1 L1320.5,449.0 L1322.9,448.9 L1325.2,448.8 L1327.6,448.7 L1329.9,448.6 L1332.3,448.6 L1334.6,448.5 L1337.0,448.4 L1339.3,448.3 L1341.7,448.2 L1344.0,448.1 L1346.4,448.0 L1348.7,447.9 L1351.1,447.8 L1353.4,447.8 L1355.8,447.7 L1358.1,447.6 L1360.5,447.5 L1362.8,447.4 L1365.2,447.3 L1367.5,447.2 L1369.9,447.2 L1372.2,447.1 L1374.6,447.0 L1376.9,446.9 L1379.3,446.8 L1381.6,446.8 L1384.0,446.7 L1386.3,446.6 L1388.7,446.5 L1391.0,446.5 L1393.4,446.4 L1395.7,446.3 L1398.1,446.2 L1400.4,446.2 L1402.8,446.1 L1405.1,446.0 L1407.5,445.9 L1409.8,445.9 L1412.2,445.8 L1414.5,445.7 L1416.9,445.7 L1419.3,445.6 L1421.6,445.5 L1424.0,445.5 L1426.3,445.4 L1428.7,445.3 L1431.0,445.3 L1433.4,445.2 L1435.7,445.1 L1438.1,445.1 L1440.4,445.0 L1442.8,445.0 L1445.1,444.9 L1447.5,444.8 L1449.9,444.8 L1452.2,444.7 L1454.6,444.7 L1456.9,444.6 L1459.3,444.6 L1461.6,444.5 L1464.0,444.5 L1466.3,444.4 L1468.7,444.4 L1471.1,444.3 L1473.4,444.3 L1475.8,444.2 L1478.1,444.2 L1480.5,444.1 L1482.8,444.1 L1485.2,444.0 L1487.5,444.0 L1489.9,443.9 L1492.3,443.9 L1494.6,443.9 L1497.0,443.8 L1499.3,443.8 L1501.7,443.7 L1504.1,443.7 L1506.4,443.7 L1508.8,443.6 L1511.1,443.6 L1513.5,443.6 L1515.8,443.5 L1518.2,443.5 L1520.6,443.5 L1522.9,443.4 L1525.3,443.4 L1527.6,443.4 L1530.0,443.3 L1532.4,443.3 L1534.7,443.3 L1537.1,443.3 L1539.4,443.2 L1541.8,443.2 L1544.2,443.2 L1546.5,443.2 L1548.9,443.1 L1551.3,443.1 L1553.6,443.1 L1556.0,443.1 L1558.3,443.1 L1560.7,443.1 L1563.1,443.0 L1565.4,443.0 L1567.8,443.0 L1570.1,443.0 L1572.5,443.0 L1574.9,443.0 L1577.2,443.0 L1579.6,443.0 L1582.0,443.0 L1584.3,443.0 L1586.7,443.0 L1589.1,442.9 L1591.4,442.9 L1593.8,442.9 L1596.2,442.9" stroke="#0000ff" stroke-width="9" fill="none" stroke-linejoin="round" stroke-linecap="butt"/>
<path d="M430.6,551.7V608.5M418.6,551.7H442.6M418.6,608.5H442.6" stroke="#1c1c8c" stroke-width="3.6" fill="none"/>
<path d="M663.8,448.9V516.1M651.8,448.9H675.8M651.8,516.1H675.8" stroke="#1c1c8c" stroke-width="3.6" fill="none"/>
<path d="M897.0,438.2V505.7M885.0,438.2H909.0M885.0,505.7H909.0" stroke="#1c1c8c" stroke-width="3.6" fill="none"/>
<path d="M1130.2,423.7V495.4M1118.2,423.7H1142.2M1118.2,495.4H1142.2" stroke="#1c1c8c" stroke-width="3.6" fill="none"/>
<path d="M1363.4,413.3V480.0M1351.4,413.3H1375.4M1351.4,480.0H1375.4" stroke="#1c1c8c" stroke-width="3.6" fill="none"/>
<path d="M1596.6,405.8V480.0M1584.6,405.8H1608.6M1584.6,480.0H1608.6" stroke="#1c1c8c" stroke-width="3.6" fill="none"/>
<path d="M407.1,592.5H454.1L430.6,554.5Z" fill="#0000ff"/>
<path d="M640.3,496.5H687.3L663.8,458.5Z" fill="#0000ff"/>
<path d="M873.5,484.5H920.5L897.0,446.5Z" fill="#0000ff"/>
<path d="M1106.7,472.3H1153.7L1130.2,434.3Z" fill="#0000ff"/>
<path d="M1339.9,459.3H1386.9L1363.4,421.3Z" fill="#0000ff"/>
<path d="M1573.1,456.0H1620.1L1596.6,418.0Z" fill="#0000ff"/>
<path d="M197.8,1272.5 L198.5,1270.1 L199.2,1267.8 L200.0,1265.4 L200.7,1263.1 L201.5,1260.7 L202.2,1258.4 L202.9,1256.0 L203.7,1253.7 L204.4,1251.3 L205.1,1249.0 L205.9,1246.6 L206.6,1244.3 L207.3,1241.9 L208.0,1239.5 L208.8,1237.2 L209.5,1234.8 L210.2,1232.5 L210.9,1230.1 L211.7,1227.7 L212.4,1225.4 L213.1,1223.0 L213.8,1220.7 L214.6,1218.3 L215.3,1215.9 L216.0,1213.6 L216.7,1211.2 L217.4,1208.8 L218.2,1206.5 L218.9,1204.1 L219.6,1201.7 L220.3,1199.4 L221.0,1197.0 L221.7,1194.7 L222.4,1192.3 L223.2,1189.9 L223.9,1187.5 L224.6,1185.2 L225.3,1182.8 L226.0,1180.4 L226.7,1178.1 L227.4,1175.7 L228.1,1173.3 L228.8,1171.0 L229.5,1168.6 L230.2,1166.2 L231.0,1163.9 L231.7,1161.5 L232.4,1159.1 L233.1,1156.7 L233.8,1154.4 L234.5,1152.0 L235.2,1149.6 L235.9,1147.2 L236.6,1144.9 L237.3,1142.5 L238.0,1140.1 L238.7,1137.8 L239.4,1135.4 L240.1,1133.0 L240.8,1130.6 L241.5,1128.3 L242.2,1125.9 L242.9,1123.5 L243.6,1121.1 L244.3,1118.8 L245.0,1116.4 L245.7,1114.0 L246.4,1111.6 L247.1,1109.3 L247.8,1106.9 L248.5,1104.5 L249.2,1102.1 L249.9,1099.7 L250.6,1097.4 L251.3,1095.0 L252.0,1092.6 L252.7,1090.2 L253.4,1087.9 L254.1,1085.5 L254.8,1083.1 L255.5,1080.7 L256.2,1078.4 L256.9,1076.0 L257.6,1073.6 L258.3,1071.2 L259.1,1068.8 L259.8,1066.5 L260.5,1064.1 L261.2,1061.7 L261.9,1059.3 L262.6,1057.0 L263.3,1054.6 L264.0,1052.2 L264.7,1049.8 L265.4,1047.5 L266.1,1045.1 L266.8,1042.7 L267.5,1040.3 L268.2,1038.0 L268.9,1035.6 L269.6,1033.2 L270.3,1030.8 L271.0,1028.4 L271.7,1026.1 L272.5,1023.7 L273.2,1021.3 L273.9,1018.9 L274.6,1016.6 L275.3,1014.2 L276.0,1011.8 L276.7,1009.4 L277.4,1007.1 L278.1,1004.7 L278.9,1002.3 L279.6,1000.0 L280.3,997.6 L281.0,995.2 L281.7,992.8 L282.4,990.5 L283.2,988.1 L283.9,985.7 L284.6,983.3 L285.3,981.0 L286.0,978.6 L286.8,976.2 L287.5,973.9 L288.2,971.5 L288.9,969.1 L289.7,966.7 L290.4,964.4 L291.1,962.0 L291.9,959.6 L292.6,957.3 L293.3,954.9 L294.0,952.5 L294.8,950.2 L295.5,947.8 L296.2,945.4 L297.0,943.1 L297.7,940.7 L298.5,938.3 L299.2,936.0 L299.9,933.6 L300.7,931.2 L301.4,928.9 L302.2,926.5 L302.9,924.2 L303.6,921.8 L304.4,919.4 L305.1,917.1 L305.9,914.7 L306.6,912.4 L307.4,910.0 L308.1,907.6 L308.9,905.3 L309.7,902.9 L310.4,900.6 L311.2,898.2 L311.9,895.8 L312.7,893.5 L313.5,891.1 L314.2,888.8 L315.0,886.4 L315.8,884.1 L316.5,881.7 L317.3,879.4 L318.1,877.0 L318.8,874.7 L319.6,872.3 L320.4,870.0 L321.2,867.6 L321.9,865.3 L322.7,862.9 L323.5,860.6 L324.3,858.2 L325.1,855.9 L325.9,853.5 L326.6,851.2 L327.4,848.9 L328.2,846.5 L329.0,844.2 L329.8,841.8 L330.6,839.5 L331.4,837.1 L332.2,834.8 L333.0,832.5 L333.8,830.1 L334.6,827.8 L335.4,825.5 L336.2,823.1 L337.1,820.8 L337.9,818.5 L338.7,816.1 L339.5,813.8 L340.3,811.5 L341.1,809.1 L342.0,806.8 L342.8,804.5 L343.6,802.1 L344.4,799.8 L345.3,797.5 L346.1,795.2 L346.9,792.8 L347.8,790.5 L348.6,788.2 L349.5,785.9 L350.3,783.5 L351.1,781.2 L352.0,778.9 L352.8,776.6 L353.7,774.3 L354.5,772.0 L355.4,769.6 L356.3,767.3 L357.1,765.0 L358.0,762.7 L358.9,760.4 L359.7,758.1 L360.6,755.8 L361.5,753.5 L362.3,751.2 L363.2,748.9 L364.1,746.5 L365.0,744.2 L365.9,741.9 L366.7,739.6 L367.6,737.3 L368.5,735.0 L369.4,732.7 L370.3,730.4 L371.2,728.1 L372.1,725.8 L373.0,723.6 L373.9,721.3 L374.8,719.0 L375.7,716.7 L376.7,714.4 L377.6,712.1 L378.5,709.8 L379.4,707.5 L380.4,705.2 L381.3,703.0 L382.2,700.7 L383.2,698.4 L384.1,696.1 L385.0,693.8 L386.0,691.6 L386.9,689.3 L387.9,687.0 L388.8,684.7 L389.8,682.5 L390.8,680.2 L391.7,677.9 L392.7,675.7 L393.7,673.4 L394.7,671.1 L395.7,668.9 L396.6,666.6 L397.6,664.4 L398.6,662.1 L399.6,659.8 L400.6,657.6 L401.6,655.3 L402.6,653.1 L403.7,650.8 L404.7,648.6 L405.7,646.3 L406.7,644.1 L407.8,641.8 L408.8,639.6 L409.8,637.4 L410.9,635.1 L411.9,632.9 L413.0,630.7 L414.0,628.4 L415.1,626.2 L416.2,624.0 L417.2,621.7 L418.3,619.5 L419.4,617.3 L420.4,615.0 L421.5,612.8 L422.6,610.6 L423.7,608.4 L424.8,606.1 L425.9,603.9 L427.0,601.7 L428.1,599.5 L429.2,597.2 L430.3,595.0 L431.4,592.8 L432.5,590.6 L433.6,588.3 L434.7,586.1 L435.8,583.9 L437.0,581.7 L438.1,579.5 L439.2,577.3 L440.4,575.1 L441.5,572.9 L442.7,570.7 L443.8,568.5 L445.0,566.3 L446.2,564.1 L447.4,561.9 L448.5,559.7 L449.7,557.6 L450.9,555.4 L452.2,553.2 L453.4,551.1 L454.6,548.9 L455.9,546.8 L457.1,544.6 L458.4,542.5 L459.6,540.4 L460.9,538.3 L462.2,536.2 L463.5,534.1 L464.8,532.0 L466.2,529.9 L467.5,527.8 L468.8,525.8 L470.2,523.7 L471.6,521.7 L473.0,519.6 L474.4,517.6 L475.8,515.6 L477.2,513.6 L478.7,511.6 L480.1,509.6 L481.6,507.7 L483.1,505.7 L484.6,503.8 L486.1,501.8 L487.7,499.9 L489.2,498.0 L490.8,496.1 L492.3,494.2 L493.9,492.4 L495.5,490.5 L497.1,488.6 L498.8,486.8 L500.4,485.0 L502.1,483.2 L503.7,481.4 L505.4,479.6 L507.1,477.8 L508.8,476.1 L510.6,474.3 L512.3,472.6 L514.0,470.8 L515.8,469.1 L517.6,467.4 L519.3,465.7 L521.1,464.1 L522.9,462.4 L524.8,460.8 L526.6,459.1 L528.4,457.5 L530.3,455.9 L532.2,454.3 L534.0,452.7 L535.9,451.2 L537.8,449.6 L539.7,448.1 L541.6,446.6 L543.6,445.1 L545.5,443.6 L547.5,442.1 L549.4,440.6 L551.4,439.1 L553.4,437.7 L555.4,436.3 L557.4,434.9 L559.4,433.5 L561.4,432.1 L563.5,430.7 L565.5,429.4 L567.6,428.0 L569.6,426.7 L571.7,425.4 L573.8,424.1 L575.9,422.8 L578.0,421.6 L580.1,420.3 L582.2,419.1 L584.3,417.9 L586.5,416.6 L588.6,415.5 L590.8,414.3 L592.9,413.1 L595.1,412.0 L597.3,410.9 L599.4,409.7 L601.6,408.6 L603.8,407.6 L606.0,406.5 L608.3,405.5 L610.5,404.4 L612.7,403.4 L615.0,402.4 L617.2,401.4 L619.4,400.5 L621.7,399.5 L624.0,398.6 L626.2,397.6 L628.5,396.7 L630.8,395.9 L633.1,395.0 L635.4,394.1 L637.7,393.3 L640.0,392.5 L642.3,391.7 L644.6,390.9 L647.0,390.1 L649.3,389.4 L651.7,388.6 L654.0,387.9 L656.3,387.2 L658.7,386.5 L661.1,385.9 L663.4,385.2 L665.8,384.6 L668.2,384.0 L670.6,383.4 L672.9,382.8 L675.3,382.2 L677.7,381.6 L680.1,381.1 L682.5,380.6 L684.9,380.0 L687.3,379.5 L689.8,379.0 L692.2,378.6 L694.6,378.1 L697.0,377.6 L699.5,377.2 L701.9,376.8 L704.3,376.4 L706.8,376.0 L709.2,375.6 L711.7,375.2 L714.1,374.8 L716.6,374.5 L719.1,374.1 L721.5,373.8 L724.0,373.5 L726.5,373.2 L728.9,372.8 L731.4,372.6 L733.9,372.3 L736.3,372.0 L738.8,371.7 L741.3,371.5 L743.8,371.2 L746.3,371.0 L748.8,370.8 L751.3,370.5 L753.8,370.3 L756.3,370.1 L758.7,369.9 L761.2,369.7 L763.7,369.5 L766.2,369.3 L768.7,369.2 L771.3,369.0 L773.8,368.8 L776.3,368.7 L778.8,368.5 L781.3,368.4 L783.8,368.3 L786.3,368.1 L788.8,368.0 L791.3,367.9 L793.8,367.8 L796.3,367.6 L798.8,367.5 L801.4,367.4 L803.9,367.3 L806.4,367.2 L808.9,367.1 L811.4,367.0 L813.9,366.9 L816.4,366.8 L818.9,366.8 L821.4,366.7 L823.9,366.6 L826.4,366.5 L828.9,366.4 L831.5,366.3 L834.0,366.3 L836.5,366.2 L839.0,366.1 L841.5,366.0 L844.0,365.9 L846.5,365.9 L849.0,365.8 L851.4,365.7 L853.9,365.6 L856.4,365.6 L858.9,365.5 L861.4,365.4 L863.9,365.3 L866.4,365.3 L868.9,365.2 L871.4,365.1 L873.9,365.0 L876.3,365.0 L878.8,364.9 L881.3,364.8 L883.8,364.8 L886.3,364.7 L888.7,364.6 L891.2,364.5 L893.7,364.5 L896.2,364.4 L898.7,364.3 L901.1,364.3 L903.6,364.2 L906.1,364.1 L908.5,364.1 L911.0,364.0 L913.5,363.9 L916.0,363.9 L918.4,363.8 L920.9,363.7 L923.4,363.7 L925.8,363.6 L928.3,363.5 L930.8,363.5 L933.2,363.4 L935.7,363.4 L938.2,363.3 L940.6,363.2 L943.1,363.2 L945.6,363.1 L948.0,363.0 L950.5,363.0 L952.9,362.9 L955.4,362.9 L957.9,362.8 L960.3,362.8 L962.8,362.7 L965.2,362.6 L967.7,362.6 L970.2,362.5 L972.6,362.5 L975.1,362.4 L977.5,362.4 L980.0,362.3 L982.5,362.3 L984.9,362.2 L987.4,362.1 L989.8,362.1 L992.3,362.0 L994.7,362.0 L997.2,361.9 L999.7,361.9 L1002.1,361.8 L1004.6,361.8 L1007.0,361.7 L1009.5,361.7 L1011.9,361.7 L1014.4,361.6 L1016.9,361.6 L1019.3,361.5 L1021.8,361.5 L1024.2,361.4 L1026.7,361.4 L1029.1,361.3 L1031.6,361.3 L1034.1,361.3 L1036.5,361.2 L1039.0,361.2 L1041.4,361.1 L1043.9,361.1 L1046.3,361.1 L1048.8,361.0 L1051.3,361.0 L1053.7,360.9 L1056.2,360.9 L1058.6,360.9 L1061.1,360.8 L1063.6,360.8 L1066.0,360.8 L1068.5,360.7 L1070.9,360.7 L1073.4,360.7 L1075.9,360.6 L1078.3,360.6 L1080.8,360.6 L1083.3,360.5 L1085.7,360.5 L1088.2,360.5 L1090.7,360.4 L1093.1,360.4 L1095.6,360.4 L1098.1,360.4 L1100.5,360.3 L1103.0,360.3 L1105.5,360.3 L1107.9,360.3 L1110.4,360.2 L1112.9,360.2 L1115.3,360.2 L1117.8,360.2 L1120.3,360.1 L1122.7,360.1 L1125.2,360.1 L1127.7,360.1 L1130.2,360.1 L1132.6,360.0 L1135.1,360.0 L1137.6,360.0 L1140.0,360.0 L1142.5,360.0 L1145.0,359.9 L1147.5,359.9 L1149.9,359.9 L1152.4,359.9 L1154.9,359.9 L1157.4,359.9 L1159.8,359.9 L1162.3,359.8 L1164.8,359.8 L1167.3,359.8 L1169.7,359.8 L1172.2,359.8 L1174.7,359.8 L1177.2,359.8 L1179.7,359.8 L1182.1,359.7 L1184.6,359.7 L1187.1,359.7 L1189.6,359.7 L1192.0,359.7 L1194.5,359.7 L1197.0,359.7 L1199.5,359.7 L1202.0,359.7 L1204.4,359.7 L1206.9,359.7 L1209.4,359.6 L1211.9,359.6 L1214.4,359.6 L1216.8,359.6 L1219.3,359.6 L1221.8,359.6 L1224.3,359.6 L1226.8,359.6 L1229.2,359.6 L1231.7,359.6 L1234.2,359.6 L1236.7,359.6 L1239.2,359.6 L1241.7,359.6 L1244.1,359.6 L1246.6,359.6 L1249.1,359.6 L1251.6,359.6 L1254.1,359.6 L1256.6,359.6 L1259.0,359.6 L1261.5,359.6 L1264.0,359.6 L1266.5,359.6 L1269.0,359.6 L1271.5,359.6 L1273.9,359.6 L1276.4,359.6 L1278.9,359.6 L1281.4,359.6 L1283.9,359.6 L1286.4,359.6 L1288.8,359.6 L1291.3,359.6 L1293.8,359.6 L1296.3,359.6 L1298.8,359.6 L1301.3,359.6 L1303.7,359.6 L1306.2,359.6 L1308.7,359.6 L1311.2,359.6 L1313.7,359.6 L1316.2,359.6 L1318.7,359.6 L1321.1,359.6 L1323.6,359.6 L1326.1,359.6 L1328.6,359.6 L1331.1,359.6 L1333.6,359.6 L1336.0,359.6 L1338.5,359.6 L1341.0,359.7 L1343.5,359.7 L1346.0,359.7 L1348.5,359.7 L1351.0,359.7 L1353.4,359.7 L1355.9,359.7 L1358.4,359.7 L1360.9,359.7 L1363.4,359.7 L1365.9,359.7 L1368.3,359.7 L1370.8,359.7 L1373.3,359.7 L1375.8,359.7 L1378.3,359.7 L1380.8,359.7 L1383.2,359.7 L1385.7,359.7 L1388.2,359.7 L1390.7,359.8 L1393.2,359.8 L1395.7,359.8 L1398.1,359.8 L1400.6,359.8 L1403.1,359.8 L1405.6,359.8 L1408.1,359.8 L1410.6,359.8 L1413.0,359.8 L1415.5,359.8 L1418.0,359.8 L1420.5,359.8 L1423.0,359.8 L1425.4,359.8 L1427.9,359.8 L1430.4,359.8 L1432.9,359.8 L1435.4,359.8 L1437.8,359.8 L1440.3,359.8 L1442.8,359.9 L1445.3,359.9 L1447.8,359.9 L1450.2,359.9 L1452.7,359.9 L1455.2,359.9 L1457.7,359.9 L1460.1,359.9 L1462.6,359.9 L1465.1,359.9 L1467.6,359.9 L1470.1,359.9 L1472.5,359.9 L1475.0,359.9 L1477.5,359.9 L1480.0,359.9 L1482.4,359.9 L1484.9,359.9 L1487.4,359.9 L1489.9,359.9 L1492.3,359.9 L1494.8,359.9 L1497.3,359.9 L1499.8,359.9 L1502.2,359.9 L1504.7,359.9 L1507.2,359.9 L1509.6,359.9 L1512.1,359.9 L1514.6,359.9 L1517.1,359.9 L1519.5,359.9 L1522.0,359.9 L1524.5,359.9 L1526.9,359.9 L1529.4,359.9 L1531.9,359.9 L1534.3,359.9 L1536.8,359.9 L1539.3,359.9 L1541.8,359.9 L1544.2,359.9 L1546.7,359.8 L1549.2,359.8 L1551.6,359.8 L1554.1,359.8 L1556.5,359.8 L1559.0,359.8 L1561.5,359.8 L1563.9,359.8 L1566.4,359.8 L1568.9,359.8 L1571.3,359.8 L1573.8,359.8 L1576.3,359.8 L1578.7,359.8 L1581.2,359.7 L1583.6,359.7 L1586.1,359.7 L1588.6,359.7 L1591.0,359.7 L1593.5,359.7 L1595.9,359.7" stroke="#ff00ff" stroke-width="9" fill="none" stroke-linejoin="round" stroke-linecap="butt"/>
<path d="M430.6,445.2V515.9M418.6,445.2H442.6M418.6,515.9H442.6" stroke="#a0449a" stroke-width="3.6" fill="none"/>
<path d="M663.8,328.7V409.8M651.8,328.7H675.8M651.8,409.8H675.8" stroke="#a0449a" stroke-width="3.6" fill="none"/>
<path d="M897.0,324.9V406.5M885.0,324.9H909.0M885.0,406.5H909.0" stroke="#a0449a" stroke-width="3.6" fill="none"/>
<path d="M1130.2,317.4V402.6M1118.2,317.4H1142.2M1118.2,402.6H1142.2" stroke="#a0449a" stroke-width="3.6" fill="none"/>
<path d="M1363.4,317.4V402.6M1351.4,317.4H1375.4M1351.4,402.6H1375.4" stroke="#a0449a" stroke-width="3.6" fill="none"/>
<path d="M1596.6,317.4V399.6M1584.6,317.4H1608.6M1584.6,399.6H1608.6" stroke="#a0449a" stroke-width="3.6" fill="none"/>
<path d="M407.6,465.5H453.6L430.6,505.5Z" fill="#ff00ff"/>
<path d="M640.8,354.2H686.8L663.8,394.2Z" fill="#ff00ff"/>
<path d="M874.0,350.7H920.0L897.0,390.7Z" fill="#ff00ff"/>
<path d="M1107.2,345.0H1153.2L1130.2,385.0Z" fill="#ff00ff"/>
<path d="M1340.4,345.0H1386.4L1363.4,385.0Z" fill="#ff00ff"/>
<path d="M1573.6,343.5H1619.6L1596.6,383.5Z" fill="#ff00ff"/>
</g>
<!-- frame -->
<rect x="197.5" y="58.8" width="1632" height="1213.7" fill="none" stroke="#000" stroke-width="10"/>
<path clip-path="url(#pb)" d="M174.4,1257.5H220.4L197.4,1297.5Z" fill="#ff00ff"/>
<!-- ticks -->
<path d="M430.6,1268V1253 M663.8,1268V1253 M897.0,1268V1253 M1130.2,1268V1253 M1363.4,1268V1253 M1596.6,1268V1253" stroke="#000" stroke-width="9.5"/>
<path d="M202,1070.2H217 M202,868.0H217 M202,665.8H217 M202,463.5H217 M202,261.2H217" stroke="#000" stroke-width="9"/>
<!-- texts -->
<path d="M1143,977.5H1292.5" stroke="#ff2ad2" stroke-width="8" stroke-linecap="round"/>
<path d="M1188.7,951.3H1247.4L1218,1005.7Z" fill="#ff2ad2"/>
<path d="M1143,1060H1292.5" stroke="#0000ff" stroke-width="8" stroke-linecap="round"/>
<path d="M1188.7,1079H1244.2L1216.5,1025Z" fill="#0000ff"/>
<path d="M1143,1128.8H1292.5" stroke="#ff0000" stroke-width="8" stroke-linecap="round"/>
<path d="M1218.5,1098L1244,1131L1218.5,1164.3L1193,1131Z" fill="#ff0000"/>
<path d="M1143,1204.7H1292.5" stroke="#000" stroke-width="8.5" stroke-linecap="round"/>
<rect x="1195.7" y="1177.8" width="44.2" height="49" fill="#000"/>
<text class="t" font-size="75.83" transform="translate(69.58,92.20) scale(1.0483,1)">120</text>
<text class="t" font-size="75.68" transform="translate(69.39,298.00) scale(1.0475,1)">100</text>
<text class="t" font-size="75.06" transform="translate(111.64,492.70) scale(1.0336,1)">80</text>
<text class="t" font-size="75.06" transform="translate(111.77,684.50) scale(1.0207,1)">60</text>
<text class="t" font-size="75.68" transform="translate(110.82,894.10) scale(1.0228,1)">40</text>
<text class="t" font-size="75.06" transform="translate(108.05,1092.70) scale(1.0696,1)">20</text>
<text class="t" font-size="75.83" transform="translate(146.44,1305.80) scale(1.0001,1)">0</text>
<text class="t" font-size="74.30" transform="translate(380.84,1344.40) scale(1.0598,1)">10</text>
<text class="t" font-size="74.30" transform="translate(617.69,1344.40) scale(1.0689,1)">20</text>
<text class="t" font-size="75.68" transform="translate(850.34,1344.70) scale(1.0336,1)">30</text>
<text class="t" font-size="74.14" transform="translate(1088.93,1343.70) scale(1.0396,1)">40</text>
<text class="t" font-size="74.30" transform="translate(1323.03,1344.70) scale(1.0249,1)">50</text>
<text class="t" font-size="74.60" transform="translate(1556.69,1344.70) scale(1.0198,1)">60</text>
<text class="t" font-size="71.57" transform="translate(823.10,1409.50) scale(1.0067,1)">Time</text>
<text class="t" font-size="69.78" transform="translate(1007.50,1407.86) scale(1.0317,1)">(h)</text>
<text class="s" font-size="109.78" transform="translate(1531.05,200.65) scale(0.7428,1)">[</text>
<text class="s" font-size="115.72" transform="translate(1556.85,201.10) scale(0.8386,1)">A</text>
<text class="s" font-size="109.78" transform="translate(1625.78,200.65) scale(0.7256,1)">]</text>
<text class="t" font-size="56.5" transform="translate(1315.3,997) scale(1.05,1)">PLA/β-CD/CA-12</text>
<text class="t" font-size="56.5" transform="translate(1315.3,1070.8) scale(1.05,1)">PLA/β-CD/CA-6</text>
<text class="t" font-size="56.5" transform="translate(1315.3,1146) scale(1.05,1)">PLA/β-CD/CA-3</text>
<text class="t" font-size="56.5" transform="translate(1315.3,1219.8) scale(1.05,1)">PLA/β-CD/CA-1.5</text>
<text class="t" font-size="68.8" transform="translate(78,1070.3) rotate(-90) scale(1.07,1)">Cumulative release (%)</text>
</svg>
</body></html>
